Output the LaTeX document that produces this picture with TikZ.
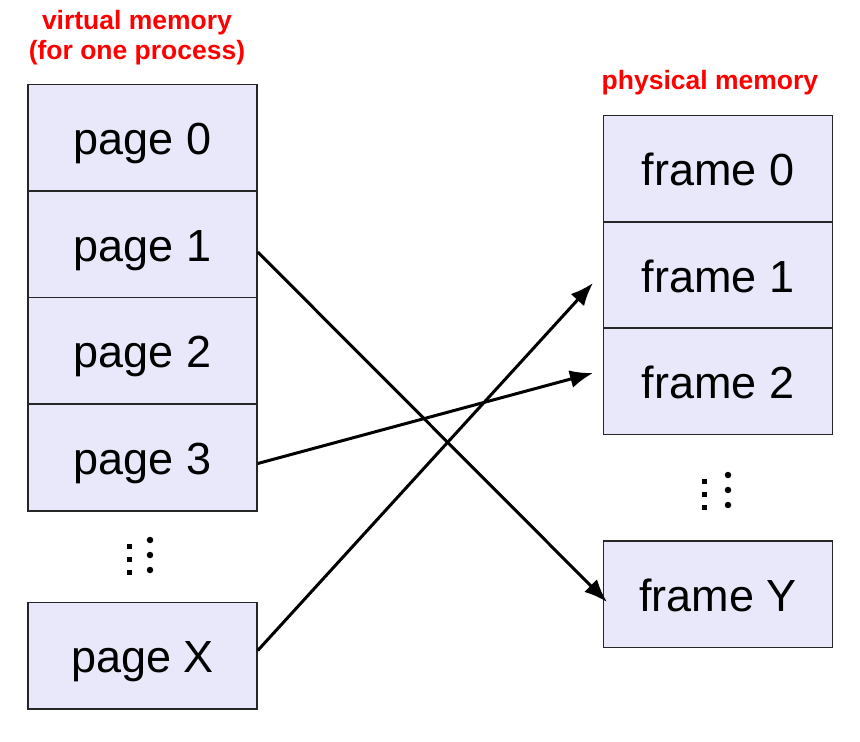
\documentclass[tikz,border=0pt]{standalone}
\usepackage{fontspec}
\setmainfont{Liberation Sans}
\usetikzlibrary{arrows.meta}
\definecolor{boxfill}{HTML}{E8E8FA}
\definecolor{lblred}{HTML}{FF0000}
\tikzset{
  membox/.style={draw=black!85, line width=1.5pt, fill=boxfill, minimum width=229pt, minimum height=106.5pt, inner sep=0pt, text height=44pt, text depth=9.5pt, font=\fontsize{45}{50}\selectfont},
  lbl/.style={text=lblred, font=\bfseries\fontsize{26.5}{30}\selectfont, align=center, inner sep=0pt},
  maparrow/.style={line width=3pt, -{Latex[length=23pt,width=18pt]}},
  sqdot/.style={fill=black, minimum size=5pt, inner sep=0pt, rectangle},
  rddot/.style={fill=black, minimum size=6.5pt, inner sep=0pt, circle}
}
\begin{document}
\begin{tikzpicture}[x=1pt,y=-1pt]
\useasboundingbox (0,0) rectangle (860,742);
% labels
\node[lbl] (vlabel) at (137,38) {virtual memory\\(for one process)};
\node[lbl] (plabel) at (710,83) {physical memory};
% virtual pages
\node[membox] (p0) at (142.5,137.5) {page 0};
\node[membox] (p1) at (142.5,244) {page 1};
\node[membox] (p2) at (142.5,350.5) {page 2};
\node[membox] (p3) at (142.5,457.5) {page 3};
\node[membox] (px) at (142.5,655.5) {page X};
% physical frames
\node[membox] (f0) at (718,168.5) {frame 0};
\node[membox] (f1) at (718,275) {frame 1};
\node[membox] (f2) at (718,381) {frame 2};
\node[membox] (fy) at (718,594) {frame Y};
% ellipsis dots
\foreach \y [count=\i] in {546,559,572} \node[sqdot] (ls\i) at (129,\y) {};
\foreach \y [count=\i] in {540,555,570} \node[rddot] (lc\i) at (150,\y) {};
\foreach \y [count=\i] in {481,494,507} \node[sqdot] (rs\i) at (704,\y) {};
\foreach \y [count=\i] in {475,490,505} \node[rddot] (rc\i) at (728,\y) {};
% arrow end points
\coordinate (s1) at ([yshift=-8pt]p1.east);
\coordinate (s3) at ([yshift=-6pt]p3.east);
\coordinate (sx) at ([yshift=5pt]px.east);
\coordinate (t1) at (593,283);
\coordinate (t2) at (593,373);
\coordinate (ty) at (607,602);
\draw[maparrow] (s1) -- (ty);
\draw[maparrow] (s3) -- (t2);
\draw[maparrow] (sx) -- (t1);
\end{tikzpicture}
\end{document}
